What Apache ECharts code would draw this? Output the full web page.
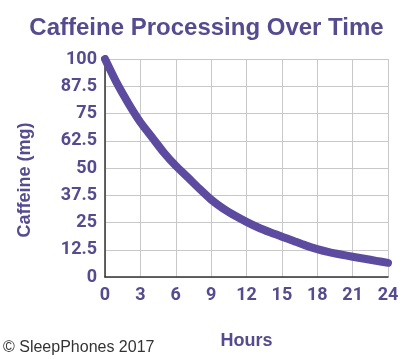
<!DOCTYPE html>
<html>
<head>
<meta charset="utf-8">
<script src="https://cdn.jsdelivr.net/npm/echarts@6/dist/echarts.min.js"></script>
<style>
html,body{margin:0;padding:0;background:#fff;}
#chart{width:413px;height:359px;}
</style>
</head>
<body>
<div id="chart"></div>
<script>
var hours = [0,1,2,3,4,5,6,7,8,9,10,11,12,13,14,15,16,17,18,19,20,21,22,23,24];
var caffeine = [100,89,79.5,71,64,57,51,45.8,40.5,35.5,31.5,28.2,25.3,22.7,20.5,18.5,16.5,14.5,12.8,11.4,10.3,9.3,8.4,7.4,6.5];
var xTicks = [0,3,6,9,12,15,18,21,24];
var yTicks = [0,12.5,25,37.5,50,62.5,75,87.5,100];
var titleText = 'Caffeine Processing Over Time';
var xName = 'Hours';
var yName = 'Caffeine (mg)';
var credit = '\u00A9 SleepPhones 2017';

var textPurple = '#564b8e';
var linePurple = '#5c4b9f';
var chart = echarts.init(document.getElementById('chart'));
chart.setOption({
  animation: false,
  backgroundColor: '#fff',
  title: {
    text: titleText, left: 'center', top: 11,
    textStyle: {fontFamily: 'Liberation Sans, Arial', fontWeight: 'bold', fontSize: 24, color: textPurple}
  },
  grid: {left: 105, right: 25, top: 59, bottom: 82, containLabel: false},
  xAxis: {
    type: 'value', min: xTicks[0], max: xTicks[xTicks.length-1], interval: 3,
    name: xName, nameLocation: 'middle', nameGap: 55,
    nameTextStyle: {fontFamily: 'Liberation Sans, Arial', fontWeight: 'bold', fontSize: 18, color: textPurple},
    axisLine: {show: true, lineStyle: {color: '#333', width: 1.5}},
    axisTick: {show: false},
    axisLabel: {margin: 9, fontFamily: 'Roboto, Liberation Sans, Arial', fontWeight: 'bold', fontSize: 18, color: textPurple},
    splitLine: {show: true, lineStyle: {color: '#c8c8c8', width: 1}}
  },
  yAxis: {
    type: 'value', min: yTicks[0], max: yTicks[yTicks.length-1], interval: 12.5,
    axisLine: {show: true, lineStyle: {color: '#333', width: 1.5}},
    axisTick: {show: false},
    axisLabel: {margin: 8, fontFamily: 'Roboto, Liberation Sans, Arial', fontWeight: 'bold', fontSize: 18, color: textPurple},
    splitLine: {show: true, lineStyle: {color: '#c8c8c8', width: 1}}
  },
  graphic: [
    {type: 'text', x: 25, y: 180, rotation: Math.PI/2,
     style: {text: yName, fontFamily: 'Liberation Sans, Arial', fontWeight: 'bold', fontSize: 18, fill: textPurple, textAlign: 'center', textVerticalAlign: 'middle'}},
    {type: 'text', left: 3, top: 340,
     style: {text: credit, fontFamily: 'Liberation Sans, Arial', fontSize: 16, fill: '#333'}}
  ],
  series: [{
    type: 'line',
    data: hours.map(function(h, i){ return [h, caffeine[i]]; }),
    showSymbol: false,
    smooth: 0.2,
    lineStyle: {color: linePurple, width: 8, cap: 'round', join: 'round'}
  }]
});
</script>
</body>
</html>
